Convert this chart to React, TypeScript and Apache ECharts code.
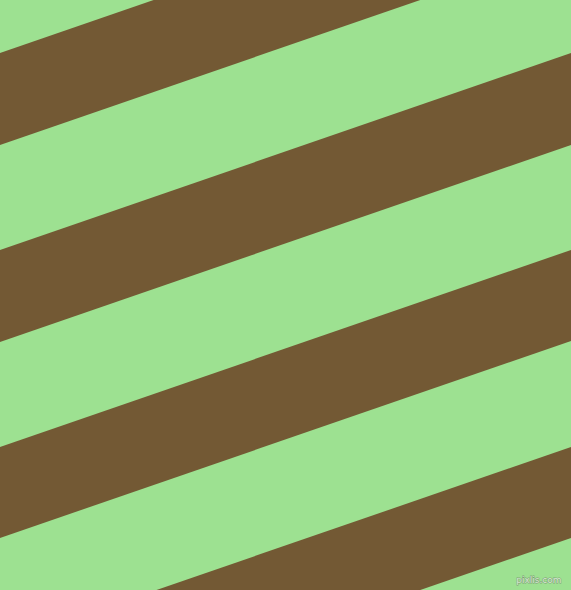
import { useEffect, useRef } from 'react';
import * as echarts from 'echarts';

// Diagonal band pattern: each brown band is given by where its upper and
// lower edges cross the left border (x = 0), in pixels from the top.
const WIDTH = 571;
const HEIGHT = 590;
const bandTopLeft = [-144, 53, 250, 447, 644];
const bandBottomLeft = [-52, 145, 342, 538, 735];
// How much higher each edge sits at the right border than at the left.
const edgeRise = 197;

const GREEN = '#9de191';
const BROWN = '#735934';

export default function App() {
  const ref = useRef<HTMLDivElement | null>(null);

  useEffect(() => {
    document.body.style.margin = '0';
    if (!ref.current) return;
    const chart = echarts.init(ref.current, undefined, { renderer: 'svg' });

    const data = bandTopLeft.map((t, i) => [t, bandBottomLeft[i]]);

    chart.setOption({
      animation: false,
      backgroundColor: GREEN,
      grid: { left: 0, right: 0, top: 0, bottom: 0 },
      xAxis: { type: 'value', min: 0, max: WIDTH, show: false },
      yAxis: { type: 'value', min: 0, max: HEIGHT, inverse: true, show: false },
      series: [
        {
          type: 'custom',
          clip: true,
          data,
          renderItem: (_params: any, api: any) => {
            const top = api.value(0);
            const bottom = api.value(1);
            const pts = [
              api.coord([0, top]),
              api.coord([WIDTH, top - edgeRise]),
              api.coord([WIDTH, bottom - edgeRise]),
              api.coord([0, bottom]),
            ];
            return {
              type: 'polygon',
              shape: { points: pts },
              style: { fill: BROWN },
            };
          },
        },
      ],
      graphic: [
        {
          type: 'text',
          right: 9,
          bottom: 5,
          style: {
            text: 'pixlis.com',
            font: '9px "DejaVu Sans"',
            fill: '#d6ebd0',
            stroke: '#7f9d78',
            lineWidth: 1,
          },
        },
      ],
    });

    return () => chart.dispose();
  }, []);

  return <div ref={ref} style={{ width: WIDTH, height: HEIGHT }} />;
}
